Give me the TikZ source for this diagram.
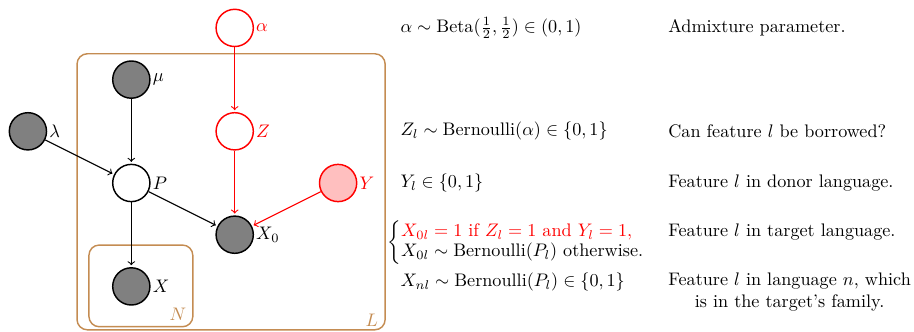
\documentclass[tikz,border=0pt]{standalone}
\usepackage{amsmath}
\usepackage{amssymb}
\usepackage{tikz}
\usepackage{xcolor}
\definecolor{platebrown}{RGB}{196,140,82}

\begin{document}
\begin{tikzpicture}[
  var/.style={circle, draw, thick, minimum size=0.72cm, inner sep=0pt},
  obs/.style={var, fill=gray},
  hid/.style={var, fill=white},
  redvar/.style={var, draw=red, text=red},
  plate/.style={draw=platebrown, thick, rounded corners=0.2cm},
  edge/.style={semithick, ->, shorten >=1pt},
  eq/.style={anchor=west, inner sep=0pt},
  desc/.style={anchor=west, inner sep=0pt},
  every label/.style={inner sep=1pt}
]
\useasboundingbox (-0.54,0.54) rectangle (17.14,-5.88);

% Plates
\draw[plate] (0.95,-0.5) rectangle (6.91,-5.84);
\node[text=platebrown] (Llab) at (6.65,-5.66) {$L$};
\draw[plate] (1.18,-4.2) rectangle (3.19,-5.78);
\node[text=platebrown] (Nlab) at (2.9,-5.53) {$N$};

% Variables
\node[redvar, fill=white, label={[text=red]right:$\alpha$}] (alpha) at (4,0) {};
\node[obs, label=right:$\mu$] (mu) at (2,-1) {};
\node[obs, label=right:$\lambda$] (lambda) at (0,-2) {};
\node[redvar, fill=white, label={[text=red]right:$Z$}] (Z) at (4,-2) {};
\node[hid, label=right:$P$] (P) at (2,-3) {};
\node[redvar, fill=red!25, label={[text=red]right:$Y$}] (Y) at (6,-3) {};
\node[obs, label=right:$X_0$] (X0) at (4,-4) {};
\node[obs, label=right:$X$] (X) at (2,-5) {};

% Edges
\draw[edge] (mu) -- (P);
\draw[edge] (lambda) -- (P);
\draw[edge] (P) -- (X);
\draw[edge] (P) -- (X0);
\draw[edge, red] (alpha) -- (Z);
\draw[edge, red] (Z) -- (X0);
\draw[edge, red] (Y) -- (X0);

% Equations
\node[eq] (eqalpha) at (7.2,0) {$\alpha \sim \text{Beta}(\frac{1}{2},\frac{1}{2}) \in (0,1)$};
\node[eq] (eqZ) at (7.2,-2) {$Z_l \sim \text{Bernoulli}(\alpha) \in \{0,1\}$};
\node[eq] (eqY) at (7.2,-3) {$Y_l \in \{0,1\}$};
\node[eq] (eqX0) at (6.95,-4.15) {$\renewcommand{\arraystretch}{0.92}\left\{\begin{array}{@{}l@{}}
  \color{red} X_{0l} = 1 \text{ if } Z_l = 1 \text{ and } Y_l = 1, \\
  X_{0l} \sim \text{Bernoulli}(P_l) \text{ otherwise.}
  \end{array}\right.$};
\node[eq] (eqX) at (7.2,-4.91) {$X_{nl} \sim \text{Bernoulli}(P_l) \in \{0,1\}$};

% Descriptions
\node[desc] (dalpha) at (12.38,0) {Admixture parameter.};
\node[desc] (dZ) at (12.38,-2) {Can feature $l$ be borrowed?};
\node[desc] (dY) at (12.38,-3) {Feature $l$ in donor language.};
\node[desc] (dX0) at (12.38,-3.95) {Feature $l$ in target language.};
\node[desc, align=center] (dX) at (12.38,-5.11) {Feature $l$ in language $n$, which\\ is in the target's family.};
\end{tikzpicture}
\end{document}
